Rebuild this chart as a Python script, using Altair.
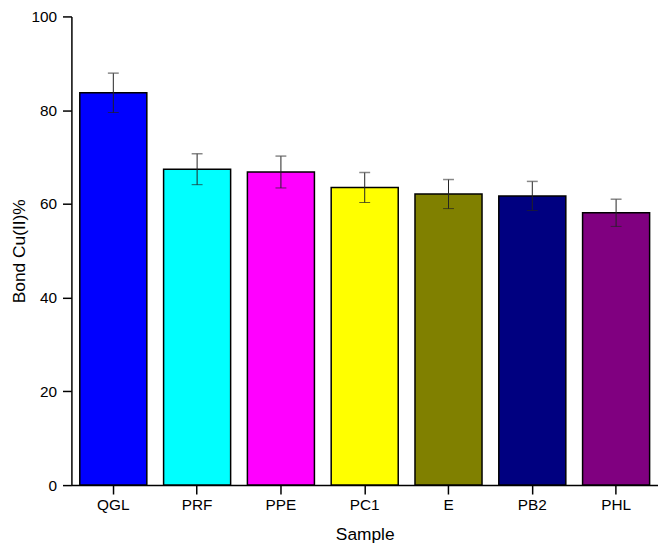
import altair as alt
import pandas as pd

samples = ["QGL", "PRF", "PPE", "PC1", "E", "PB2", "PHL"]
values = [83.7, 67.4, 66.8, 63.5, 62.1, 61.7, 58.1]
errors = [4.2, 3.3, 3.4, 3.2, 3.1, 3.1, 2.9]
colors = ["#0000FF", "#00FFFF", "#FF00FF", "#FFFF00", "#808000", "#000080", "#800080"]

df = pd.DataFrame({"Sample": samples, "Value": values, "Err": errors})
df["lo"] = df["Value"] - df["Err"]
df["hi"] = df["Value"] + df["Err"]

FONT = "Liberation Sans"

xenc = alt.X("Sample:N", sort=samples, title="Sample",
             scale=alt.Scale(paddingInner=0.2, paddingOuter=0.1),
             axis=alt.Axis(labelAngle=0, labelPadding=4, titlePadding=12))

yscale = alt.Scale(domain=[0, 100], nice=False, zero=True)

bars = alt.Chart(df).mark_bar(stroke="black", strokeWidth=1.5).encode(
    x=xenc,
    y=alt.Y("Value:Q", title="Bond Cu(II)%", scale=yscale,
            axis=alt.Axis(values=[0, 20, 40, 60, 80, 100], labelPadding=6, titlePadding=2)),
    color=alt.Color("Sample:N", sort=samples,
                    scale=alt.Scale(domain=samples, range=colors), legend=None),
)

rules = alt.Chart(df).mark_rule(color="#222222", strokeWidth=1).encode(
    x=alt.X("Sample:N", sort=samples),
    y=alt.Y("lo:Q", scale=yscale),
    y2="hi:Q",
)

caps_lo = alt.Chart(df).mark_tick(color="#222222", thickness=1, size=11, orient="horizontal").encode(
    x=alt.X("Sample:N", sort=samples),
    y=alt.Y("lo:Q", scale=yscale),
)
caps_hi = alt.Chart(df).mark_tick(color="#555555", thickness=1.5, size=11, orient="horizontal").encode(
    x=alt.X("Sample:N", sort=samples),
    y=alt.Y("hi:Q", scale=yscale),
)

chart = alt.layer(bars, rules, caps_lo, caps_hi).properties(
    width=592,
    height=473,
    background="white",
    padding={"left": 64, "top": 6, "right": 0, "bottom": 64},
    autosize=alt.AutoSizeParams(type="none"),
).configure_view(strokeWidth=0).configure_axis(
    grid=False,
    labelFont=FONT, labelFontSize=15.5, labelColor="black",
    titleFont=FONT, titleFontSize=17.5, titleFontWeight="normal", titleColor="black",
    domainColor="black", domainWidth=1.5, tickColor="black", tickWidth=1.5, tickSize=9,
)

chart.save("out.html", embed_options={"renderer": "svg", "actions": False})
